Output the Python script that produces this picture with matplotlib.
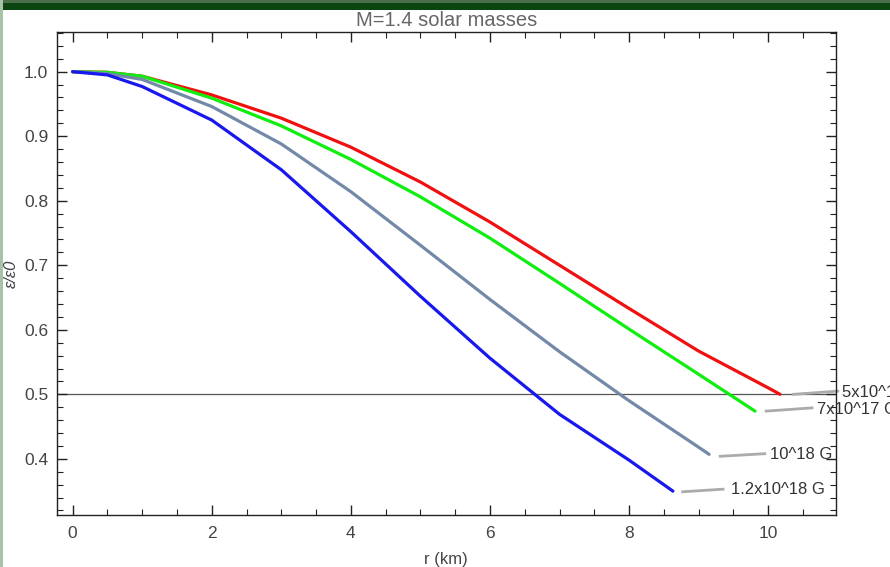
import matplotlib
matplotlib.use("Agg")
import matplotlib.pyplot as plt
from matplotlib.patches import Rectangle
from matplotlib.ticker import MultipleLocator, FormatStrFormatter

# ---- data ----
r_red = [0, 0.5, 1, 2, 3, 4, 5, 6, 7, 8, 9, 10, 10.17]
e_red = [1.0, 0.999, 0.993, 0.964, 0.928, 0.883, 0.829, 0.767, 0.700, 0.633, 0.567, 0.510, 0.500]

r_green = [0, 0.5, 1, 2, 3, 4, 5, 6, 7, 8, 9, 9.81]
e_green = [1.0, 0.999, 0.993, 0.959, 0.916, 0.864, 0.806, 0.742, 0.672, 0.601, 0.531, 0.474]

r_slate = [0, 0.5, 1, 2, 3, 4, 5, 6, 7, 8, 9, 9.15]
e_slate = [1.0, 0.997, 0.988, 0.946, 0.888, 0.814, 0.731, 0.647, 0.566, 0.490, 0.418, 0.407]

r_blue = [0, 0.5, 1, 2, 3, 4, 5, 6, 7, 8, 8.63]
e_blue = [1.0, 0.995, 0.977, 0.925, 0.848, 0.752, 0.652, 0.556, 0.469, 0.398, 0.350]

labels = ["5x10^17 G", "7x10^17 G", "10^18 G", "1.2x10^18 G"]
title = "M=1.4 solar masses"
xlabel = "r (km)"
ylabel = "\u03b5/\u03b50"

series = [(r_red, e_red), (r_green, e_green), (r_slate, e_slate), (r_blue, e_blue)]
colors = ["#f01010", "#10ee10", "#7389a8", "#1818ee"]

# callout leader lines and label anchors (data coords)
leader_start = [(10.36, 0.500), (9.97, 0.474), (9.31, 0.404), (8.77, 0.349)]
leader_end = [(11.0, 0.505), (10.63, 0.479), (9.95, 0.408), (9.35, 0.353)]
text_pos = [(11.06, 0.503), (10.70, 0.477), (10.03, 0.407), (9.47, 0.352)]

plt.rcParams['font.family'] = ['Liberation Sans', 'DejaVu Sans']

fig = plt.figure(figsize=(8.9, 5.67), dpi=100)
fig.patch.set_facecolor("white")
# green border
fig.patches.append(Rectangle((0, 1 - 10 / 567), 1, 10 / 567, transform=fig.transFigure,
                             facecolor="#0b4611", edgecolor="none", zorder=0))
fig.patches.append(Rectangle((0, 1 - 3 / 567), 1, 3 / 567, transform=fig.transFigure,
                             facecolor="#4b6e4b", edgecolor="none", zorder=0))
fig.patches.append(Rectangle((0, 0), 3 / 890, 1, transform=fig.transFigure,
                             facecolor="#a8c2a8", edgecolor="none", zorder=0))

ax = fig.add_axes([56.7 / 890, 52 / 567, (835.7 - 56.7) / 890, (515 - 32) / 567])
ax.set_xlim(-0.229, 10.97)
ax.set_ylim(0.313, 1.0615)

ax.axhline(0.5, color="#555555", lw=0.9, zorder=1)

for (r, e), c in zip(series, colors):
    ax.plot(r, e, color=c, lw=2.3, solid_capstyle="round", solid_joinstyle="round", zorder=3)

for s, e_, t, lab in zip(leader_start, leader_end, text_pos, labels):
    ax.plot([s[0], e_[0]], [s[1], e_[1]], color="#ababab", lw=2, clip_on=False, zorder=2)
    ax.text(t[0], t[1], lab, fontsize=12, color="#333333", ha="left", va="center",
            clip_on=False)

ax.xaxis.set_major_locator(MultipleLocator(2))
ax.xaxis.set_minor_locator(MultipleLocator(0.5))
ax.yaxis.set_major_locator(MultipleLocator(0.1))
ax.yaxis.set_minor_locator(MultipleLocator(0.02))
ax.tick_params(which="both", direction="in", top=True, right=True, colors="#222222",
               labelcolor="#444444", labelsize=12.5)
ax.tick_params(which="major", length=7, width=1)
ax.tick_params(which="minor", length=4, width=0.8)
ax.tick_params(axis="x", pad=8)
ax.tick_params(axis="y", pad=6)
ax.yaxis.set_major_formatter(FormatStrFormatter("%.1f"))
for sp in ax.spines.values():
    sp.set_color("#222222")
    sp.set_linewidth(1)

ax.set_title(title, fontsize=14.5, color="#666666", pad=4)
ax.set_xlabel(xlabel, fontsize=12, color="#444444")
ax.xaxis.set_label_coords(0.5, -0.076)
ax.set_ylabel(ylabel, fontsize=12, color="#444444", fontstyle="italic")
ax.yaxis.set_label_coords(-0.049, 0.5)

fig.savefig("out.png", dpi=100)
